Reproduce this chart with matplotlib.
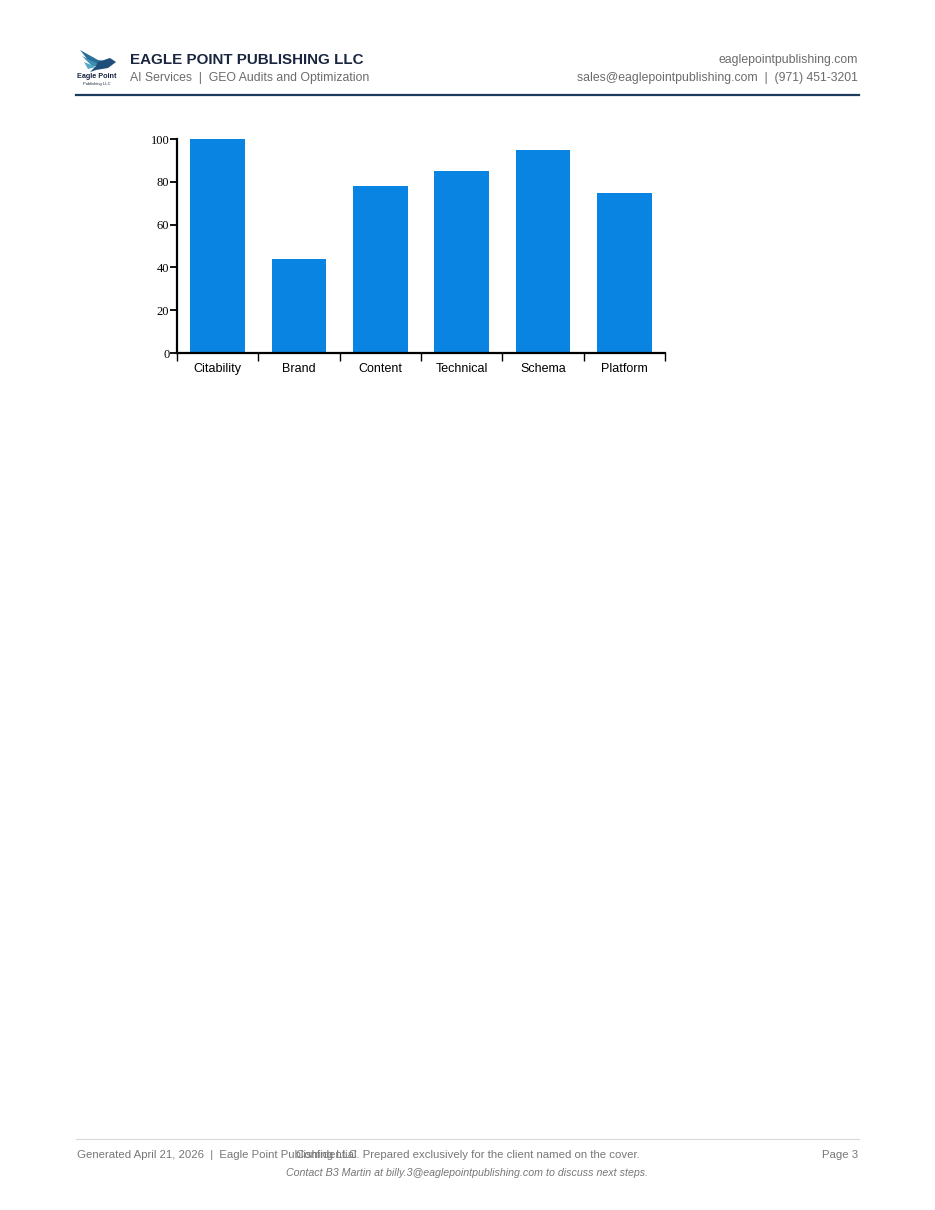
import matplotlib.pyplot as plt
from matplotlib.patches import Polygon
from matplotlib.lines import Line2D

# Chart data
categories = ["Citability", "Brand", "Content", "Technical", "Schema", "Platform"]
scores = [100, 44, 78, 85, 95, 75]
y_ticks = [0, 20, 40, 60, 80, 100]

W, H = 935, 1210
fig = plt.figure(figsize=(W / 100, H / 100), dpi=100)


def px(x, y):
    # pixel coords (top-left origin) -> figure fraction
    return x / W, 1 - y / H


sans = ["Liberation Sans", "DejaVu Sans"]
navy = "#1a2540"
gray = "#6b6b6b"

# Header logo (simple bird sketch)
wings = [
    [(80, 50), (98, 60), (112, 62), (100, 66), (88, 60)],
    [(82, 56), (98, 64), (106, 66), (92, 66)],
    [(84, 62), (96, 67), (88, 69)],
    [(98, 62), (110, 58), (116, 62), (108, 68), (96, 70), (90, 72), (96, 66)],
]
wing_colors = ["#2a6f97", "#3b8fb0", "#56a9c4", "#1f4e79"]
for pts, c in zip(wings, wing_colors):
    fig.patches.append(Polygon([px(x, y) for x, y in pts], closed=True,
                               transform=fig.transFigure, facecolor=c,
                               edgecolor="none"))
fig.text(*px(97, 77), "Eagle Point", ha="center", va="center", fontsize=5.2,
         fontweight="bold", color=navy, family=sans)
fig.text(*px(97, 83.5), "Publishing LLC", ha="center", va="center", fontsize=3,
         color=navy, family=sans)

# Header text
fig.text(*px(130, 59.5), "EAGLE POINT PUBLISHING LLC", ha="left", va="center",
         fontsize=10.9, fontweight="bold", color=navy, family=sans)
fig.text(*px(130, 78), "AI Services  |  GEO Audits and Optimization", ha="left",
         va="center", fontsize=8.85, color=gray, family=sans)
fig.text(*px(858, 60.5), "eaglepointpublishing.com", ha="right", va="center",
         fontsize=8.85, color=gray, family=sans)
fig.text(*px(858, 78), "sales@eaglepointpublishing.com  |  (971) 451-3201",
         ha="right", va="center", fontsize=8.85, color=gray, family=sans)
x0, y0 = px(76, 95)
x1, _ = px(859, 95)
fig.add_artist(Line2D([x0, x1], [y0, y0], transform=fig.transFigure,
                      color="#1b3a5c", linewidth=1.6))

# Bar chart
left, top, right, bottom = 177, 139, 665, 353
ax = fig.add_axes([left / W, 1 - bottom / H, (right - left) / W, (bottom - top) / H])
positions = list(range(len(categories)))
ax.bar(positions, scores, width=0.67, color="#0984e3")
ax.set_xlim(-0.5, len(categories) - 0.5)
ax.set_ylim(0, 100)

ax.spines["top"].set_visible(False)
ax.spines["right"].set_visible(False)
ax.spines["left"].set_linewidth(1.6)
ax.spines["bottom"].set_linewidth(1.6)

ax.set_yticks(y_ticks)
ax.set_yticklabels([str(t) for t in y_ticks], family=["Liberation Serif", "DejaVu Serif"],
                   fontsize=9)
ax.tick_params(axis="y", length=5, width=1.3, pad=0.5)

ax.set_xticks(positions)
ax.set_xticklabels(categories, family=sans, fontsize=9)
ax.tick_params(axis="x", which="major", length=0, pad=7)
ax.set_xticks([p - 0.5 for p in positions] + [len(categories) - 0.5], minor=True)
ax.tick_params(axis="x", which="minor", length=6, width=1.0)

# Footer (the two first-line texts overlap in the original layout)
fx0, fy0 = px(76, 1139)
fx1, _ = px(859, 1139)
fig.add_artist(Line2D([fx0, fx1], [fy0, fy0], transform=fig.transFigure,
                      color="#d9d9d9", linewidth=0.8))
fig.text(*px(77, 1155), "Generated April 21, 2026  |  Eagle Point Publishing LLC",
         ha="left", va="center", fontsize=8.2, color="#777777", family=sans)
fig.text(*px(467.5, 1155), "Confidential. Prepared exclusively for the client named on the cover.",
         ha="center", va="center", fontsize=8.2, color="#777777", family=sans)
fig.text(*px(858, 1155), "Page 3", ha="right", va="center", fontsize=8.2,
         color="#777777", family=sans)
fig.text(*px(467.5, 1173), "Contact B3 Martin at billy.3@eaglepointpublishing.com to discuss next steps.",
         ha="center", va="center", fontsize=7.7, color="#777777", style="italic",
         family=sans)

fig.savefig("out.png", dpi=100)
